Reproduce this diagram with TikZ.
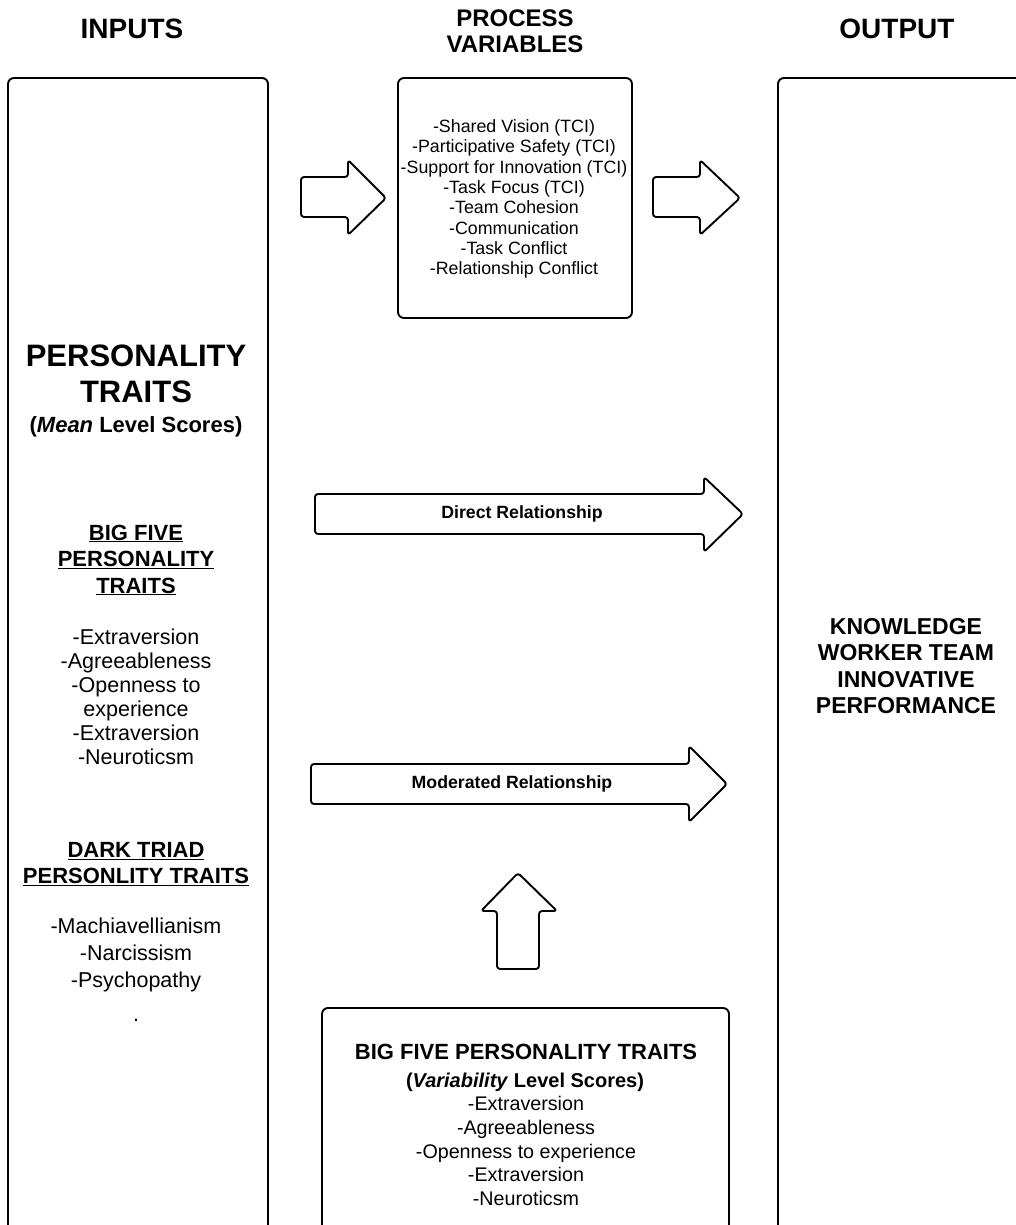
\documentclass[tikz,border=0pt]{standalone}
\usepackage{fontspec}
\setmainfont{Liberation Sans}
\usetikzlibrary{positioning}

\newcommand{\fsz}[2]{\fontsize{#1}{#2}\selectfont}
\tikzset{
  frame/.style={draw, line width=1.9pt, rounded corners=6pt},
  blockarrow/.style={draw, line width=1.9pt, rounded corners=3pt, line join=round},
  txt/.style={align=center, inner sep=0pt}
}

\begin{document}
\begin{tikzpicture}[x=1pt, y=-1pt]
     \useasboundingbox (0, 0) rectangle (1016, 1225);
     \clip (0, 0) rectangle (1016, 1225);
     \draw [frame] (8, 78) rectangle (268, 1260);
     \draw [frame] (398, 78) rectangle (632, 318);
     \draw [frame] (778, 78) rectangle (1050, 1260);
     \draw [frame] (322, 1008) rectangle (729, 1260);
     \draw [blockarrow] (301, 177) -- (348, 177) -- (348, 160) -- (386, 198)
        -- (348, 235) -- (348, 217) -- (301, 217) -- cycle;
     \draw [blockarrow] (653, 177) -- (700, 177) -- (700, 160) -- (740, 198)
        -- (700, 235) -- (700, 217) -- (653, 217) -- cycle;
     \draw [blockarrow] (315, 494) -- (704, 494) -- (704, 477) -- (743, 514)
        -- (704, 552) -- (704, 534) -- (315, 534) -- cycle;
     \draw [blockarrow] (311, 764) -- (689, 764) -- (689, 746) -- (727, 784)
        -- (689, 822) -- (689, 804) -- (311, 804) -- cycle;
     \draw [blockarrow] (497, 969) -- (497, 911) -- (481, 911) -- (518, 873)
        -- (557, 911) -- (539, 911) -- (539, 969) -- cycle;
     \node [txt, font=\fsz{28}{30}\bfseries] (inputs) at (132, 29) {INPUTS};
     \node [txt, font=\fsz{24}{26}\bfseries] (process) at (515, 31) {PROCESS\\VARIABLES};
     \node [txt, font=\fsz{28}{30}\bfseries] (output) at (897, 29) {OUTPUT};
     \node [txt, font=\fsz{17.8}{20.3}] (vars) at (514, 199) {-Shared Vision (TCI)\\-Participative Safety (TCI)\\-Support for Innovation (TCI)\\-Task Focus (TCI)\\-Team Cohesion\\-Communication\\-Task Conflict\\-Relationship Conflict};
     \node [txt, font=\fsz{31}{36}\bfseries] (traits) at (136, 374) {PERSONALITY\\TRAITS};
     \node [txt, font=\fsz{22}{26}\bfseries] (mean) at (136, 427) {(\textit{Mean} Level Scores)};
     \node [txt, font=\fsz{22}{26.5}\bfseries] (bigfive) at (136, 560) {\underline{BIG FIVE}\\\underline{PERSONALITY}\\\underline{TRAITS}};
     \node [txt, font=\fsz{21.5}{24}] (bflist) at (136, 697) {-Extraversion\\-Agreeableness\\-Openness to\\experience\\-Extraversion\\-Neuroticsm};
     \node [txt, font=\fsz{22}{26}\bfseries] (darktriad) at (136, 864) {\underline{DARK TRIAD}\\\underline{PERSONLITY TRAITS}};
     \node [txt, font=\fsz{21.5}{27}] (dtlist) at (136, 955) {-Machiavellianism\\-Narcissism\\-Psychopathy};
     \node [txt, font=\fsz{21.5}{24}, anchor=base] (dot) at (136, 1021) {.};
     \node [txt, font=\fsz{17.7}{20}\bfseries] (direct) at (522, 514) {Direct Relationship};
     \node [txt, font=\fsz{17.7}{20}\bfseries] (moderated) at (512, 784) {Moderated Relationship};
     \node [txt, font=\fsz{23}{26.4}\bfseries] (performance) at (906, 666) {KNOWLEDGE\\WORKER TEAM\\INNOVATIVE\\PERFORMANCE};
     \node [txt, font=\fsz{22}{26}\bfseries] (variab) at (526, 1052) {BIG FIVE PERSONALITY TRAITS};
     \node [txt, font=\fsz{20}{24}\bfseries] (vscores) at (525, 1082) {(\textit{Variability} Level Scores)};
     \node [txt, font=\fsz{19.7}{23.7}] (vlist) at (526, 1151) {-Extraversion\\-Agreeableness\\-Openness to experience\\-Extraversion\\-Neuroticsm};
\end{tikzpicture}
\end{document}
